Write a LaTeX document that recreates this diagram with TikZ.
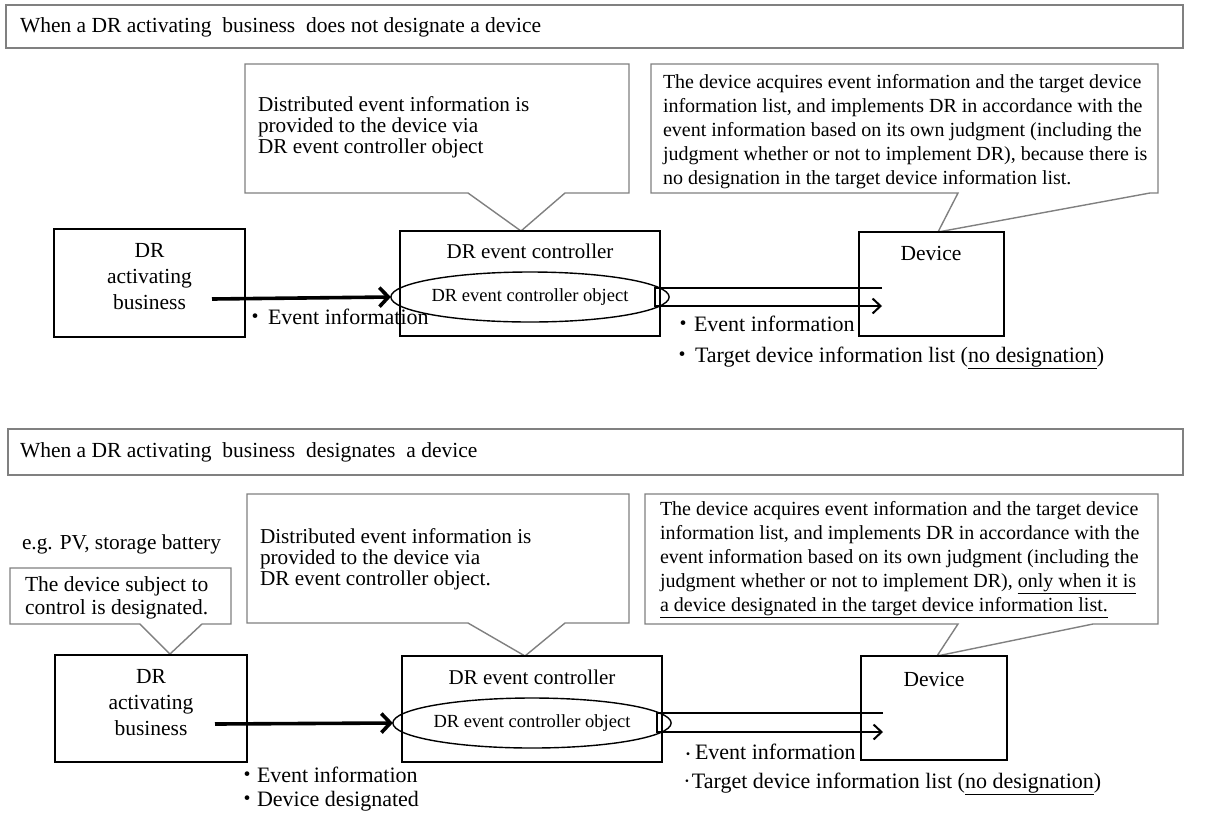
\documentclass[tikz,border=0pt]{standalone}
\usepackage{fontspec}
\setmainfont{Liberation Serif}
\newfontfamily\cjk{Noto Sans CJK JP}
\usetikzlibrary{arrows.meta,shapes.geometric}
\newcommand{\jd}[1]{\makebox[#1][c]{\cjk ・}}
\newcommand{\jds}[1]{\makebox[#1pt][c]{\cjk\fontsize{#1}{#1}\selectfont ・}}
\begin{document}
\begin{tikzpicture}[x=1pt,y=-1pt,
  every node/.style={inner sep=0pt, outer sep=0pt},
  frame/.style={draw=black!50, line width=1.4pt, fill=white, anchor=north west},
  callout/.style={draw=black!50, line width=1.4pt, fill=white, line join=miter},
  blk/.style={draw=black, line width=1.8pt, anchor=north west},
  lbl/.style={font=\fontsize{21.5}{26}\selectfont, align=center},
  clbl/.style={font=\fontsize{21}{26}\selectfont, align=center},
  para/.style={font=\fontsize{20}{24}\selectfont, align=left, anchor=north west},
  paramid/.style={font=\fontsize{21.2}{21}\selectfont, align=left, anchor=north west},
  line/.style={font=\fontsize{22}{25}\selectfont, anchor=base west},
  objell/.style={ellipse, draw=black, line width=1.4pt, font=\fontsize{18.5}{20}\selectfont,
    minimum width=228pt, minimum height=50pt},
  fat/.style={line width=3.6pt, -{Straight Barb[length=9pt,width=19pt]}},
  hollow/.style={line width=2pt, -{Straight Barb[length=8pt,width=15pt]}}
]
\useasboundingbox (0,0) rectangle (1225,812);

% ================= TOP =================
\node[frame, minimum width=1177pt, minimum height=43pt] (title1) at (6,5) {};
\node[font=\fontsize{21.5}{25}\selectfont, anchor=west] (title1t) at (20,27)
  {When a DR activating\ \ business\ \ does not designate a device};

% callouts
\coordinate (tipA) at (521,231);
\draw[callout] (245,64) -- (629,64) -- (629,193) -- (565,193) -- (tipA) -- (468,193) -- (245,193) -- cycle;
\node[paramid] (callAt) at (258,97)
  {Distributed event information is\\provided to the device via\\DR event controller object};

\coordinate (tipB) at (938,232);
\draw[callout] (651,64) -- (1158,64) -- (1158,193) -- (1150,193) -- (tipB) -- (958,193) -- (651,193) -- cycle;
\node[para] (callBt) at (663,74)
  {The device acquires event information and the target device\\
   information list, and implements DR in accordance with the\\
   event information based on its own judgment (including the\\
   judgment whether or not to implement DR), because there is\\
   no designation in the target device information list.};

% boxes
\node[blk, minimum width=191pt, minimum height=108pt] (dr1) at (54,229) {};
\node[lbl] (dr1t) at (149.5,277) {DR\\activating\\business};
\node[blk, minimum width=260pt, minimum height=105pt] (ctrl1) at (400,231) {};
\node[clbl] (ctrl1t) at (530,251) {DR event controller};
\node[objell] (ell1) at (530,297) {DR event controller object};
\node[blk, minimum width=145pt, minimum height=104pt] (dev1) at (859,232) {};
\node[lbl] (dev1t) at (931,253) {Device};

% arrows
\coordinate (a1s) at (212,299);
\draw[fat] (a1s) -- (ell1.west);
\coordinate (h1a) at (882,288);
\coordinate (h1b) at (655,288);
\coordinate (h1c) at (655,306);
\coordinate (h1d) at (882,306);
\draw[hollow] (h1a) -- (h1b) -- (h1c) -- (h1d);

% labels
\node[line] (ev1) at (242,324) {\jd{26pt}Event information};
\node[line] (ev1r) at (672,331) {\jd{22pt}Event information};
\node[line] (tl1r) at (669,362) {\jd{26pt}Target device information list (\underline{no designation})};

% ================= BOTTOM =================
\node[frame, minimum width=1175pt, minimum height=46pt] (title2) at (8,429) {};
\node[font=\fontsize{21.5}{25}\selectfont, anchor=west] (title2t) at (20,452)
  {When a DR activating\ \ business\ \ designates\ \ a device};

\node[font=\fontsize{21.3}{25}\selectfont, anchor=base west] (eg) at (22,549) {e.g. PV, storage battery};

\coordinate (tipS) at (170,654);
\draw[callout] (10,568) -- (231,568) -- (231,624) -- (202,624) -- (tipS) -- (140,624) -- (10,624) -- cycle;
\node[font=\fontsize{21.5}{23}\selectfont, align=left, anchor=north west] (callSt) at (25,577)
  {The device subject to\\control is designated.};

\coordinate (tipC) at (525,656);
\draw[callout] (247,494) -- (629,494) -- (629,623) -- (565,623) -- (tipC) -- (468,623) -- (247,623) -- cycle;
\node[paramid] (callCt) at (260,529)
  {Distributed event information is\\provided to the device via\\DR event controller object.};

\coordinate (tipD) at (937,656);
\draw[callout] (645,494) -- (1158,494) -- (1158,624) -- (1093,624) -- (tipD) -- (958,624) -- (645,624) -- cycle;
\node[para] (callDt) at (660,501)
  {The device acquires event information and the target device\\
   information list, and implements DR in accordance with the\\
   event information based on its own judgment (including the\\
   judgment whether or not to implement DR), \underline{only when it is}\\
   \underline{a device designated in the target device information list.}};

% boxes
\node[blk, minimum width=192pt, minimum height=107pt] (dr2) at (55,655) {};
\node[lbl] (dr2t) at (151,703) {DR\\activating\\business};
\node[blk, minimum width=260pt, minimum height=106pt] (ctrl2) at (402,656) {};
\node[clbl] (ctrl2t) at (532,677) {DR event controller};
\node[objell, minimum width=229pt] (ell2) at (532,723) {DR event controller object};
\node[blk, minimum width=146pt, minimum height=104pt] (dev2) at (861,656) {};
\node[lbl] (dev2t) at (934,679) {Device};

% arrows
\coordinate (a2s) at (215,724);
\draw[fat] (a2s) -- (ell2.west);
\coordinate (h2a) at (883,713);
\coordinate (h2b) at (657,713);
\coordinate (h2c) at (657,732);
\coordinate (h2d) at (883,732);
\draw[hollow] (h2a) -- (h2b) -- (h2c) -- (h2d);

% labels
\node[line] (ev2) at (237,782) {\jd{20pt}Event information};
\node[line] (dd2) at (237,806) {\jd{20pt}Device designated};
\node[line] (ev2r) at (681,759) {\jds{14}Event information};
\node[line] (tl2r) at (682,788) {\makebox[10pt][c]{·}Target device information list (\underline{no designation})};
\end{tikzpicture}
\end{document}
